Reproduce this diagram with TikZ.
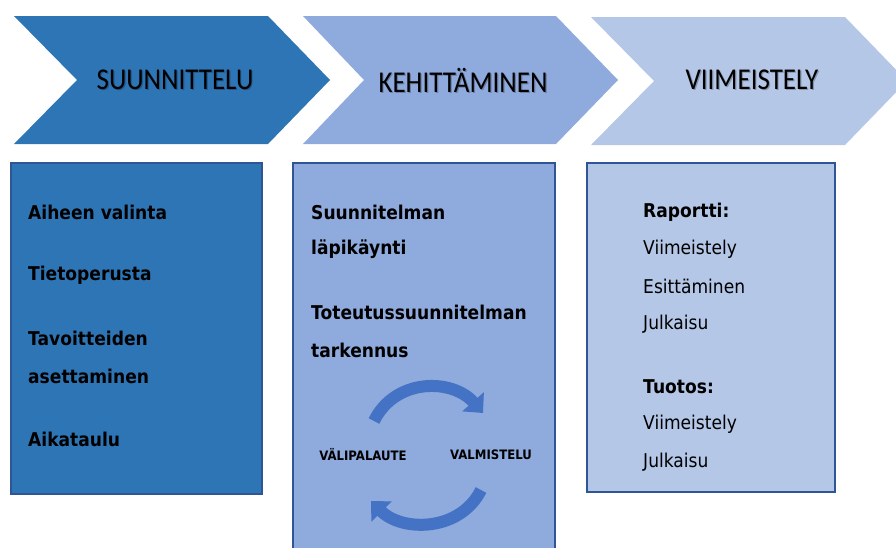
\documentclass[tikz,border=0pt]{standalone}
\usepackage{fontspec}
\setmainfont{DejaVu Sans}[FakeStretch=0.9]
\newfontfamily\calib{Carlito}
\usetikzlibrary{arrows.meta}
\definecolor{cA}{HTML}{2E75B6}
\definecolor{cB}{HTML}{8FAADC}
\definecolor{cC}{HTML}{B4C7E7}
\definecolor{cBorder}{HTML}{2F5597}
\definecolor{cArrow}{HTML}{4472C4}
\tikzset{
  title/.style={font=\calib\fontsize{27}{30}\selectfont, text=black, inner sep=0pt},
  titleshadow/.style={font=\calib\fontsize{27}{30}\selectfont, text=black, opacity=0.25, inner sep=0pt},
  panel/.style={draw=cBorder, line width=1.5pt},
  item/.style={font=\bfseries\fontsize{19}{22}\selectfont, anchor=west, inner sep=0pt},
  itemr/.style={font=\fontsize{19}{22}\selectfont, anchor=west, inner sep=0pt},
  cyc/.style={font=\bfseries\fontsize{13}{15}\selectfont, inner sep=0pt},
  loop/.style={draw=cArrow, line width=12pt, -{Triangle[width=28pt,length=15pt]}}
}
\begin{document}
\begin{tikzpicture}[x=1pt,y=-1pt]
\useasboundingbox (0,0) rectangle (896,547);
\clip (0,0) rectangle (896,547);
% chevrons
\fill[cA] (14,16) -- (268,16) -- (330,80) -- (268,144) -- (14,144) -- (77,80) -- cycle;
\fill[cB] (303,16) -- (556,16) -- (618,80) -- (556,144) -- (303,144) -- (364,80) -- cycle;
\fill[cC] (591,17) -- (845,17) -- (907,81) -- (845,145) -- (591,145) -- (654,81) -- cycle;
\node[titleshadow] at (176.2,81.2) {\scalebox{1}[1.12]{SUUNNITTELU}};
\node[title] (t1) at (175,80) {\scalebox{1}[1.12]{SUUNNITTELU}};
\node[titleshadow] at (464.2,81.2) {\scalebox{1}[1.12]{KEHITTÄMINEN}};
\node[title] (t2) at (463,80) {\scalebox{1}[1.12]{KEHITTÄMINEN}};
\node[titleshadow] at (753.2,81.2) {\scalebox{1}[1.12]{VIIMEISTELY}};
\node[title] (t3) at (752,80) {\scalebox{1}[1.12]{VIIMEISTELY}};
% panels
\fill[cA] (11,163) rectangle (262,494);
\draw[panel] (11,163) rectangle (262,494);
\fill[cB] (293,163) rectangle (555,560);
\draw[panel] (293,163) rectangle (555,560);
\fill[cC] (587,163) rectangle (835,492);
\draw[panel] (587,163) rectangle (835,492);
% panel 1 text
\node[item] (a1) at (28,212) {Aiheen valinta};
\node[item] (a2) at (28,275) {Tietoperusta};
\node[item] (a3) at (28,338) {Tavoitteiden};
\node[item] (a4) at (28,376) {asettaminen};
\node[item] (a5) at (28,439) {Aikataulu};
% panel 2 text
\node[item] (b1) at (311,212) {Suunnitelman};
\node[item] (b2) at (311,249) {läpikäynti};
\node[item] (b3) at (311,312) {Toteutussuunnitelman};
\node[item] (b4) at (311,350) {tarkennus};
\node[cyc] (v1) at (363,455) {VÄLIPALAUTE};
\node[cyc] (v2) at (491,455) {VALMISTELU};
\coordinate (s1) at (374,421);
\coordinate (e1) at (483,413);
\coordinate (s2) at (481,490);
\coordinate (e2) at (371,501);
\draw[loop] (s1) .. controls (395,378) and (452,378) .. (e1);
\draw[loop] (s2) .. controls (460,532) and (402,532) .. (e2);
% panel 3 text
\node[item] (c1) at (643,212) {Raportti:};
\node[itemr] (c2) at (643,249) {Viimeistely};
\node[itemr] (c3) at (643,286) {Esittäminen};
\node[itemr] (c4) at (643,324) {Julkaisu};
\node[item] (c5) at (643,387) {Tuotos:};
\node[itemr] (c6) at (643,424) {Viimeistely};
\node[itemr] (c7) at (643,462) {Julkaisu};
\end{tikzpicture}
\end{document}
